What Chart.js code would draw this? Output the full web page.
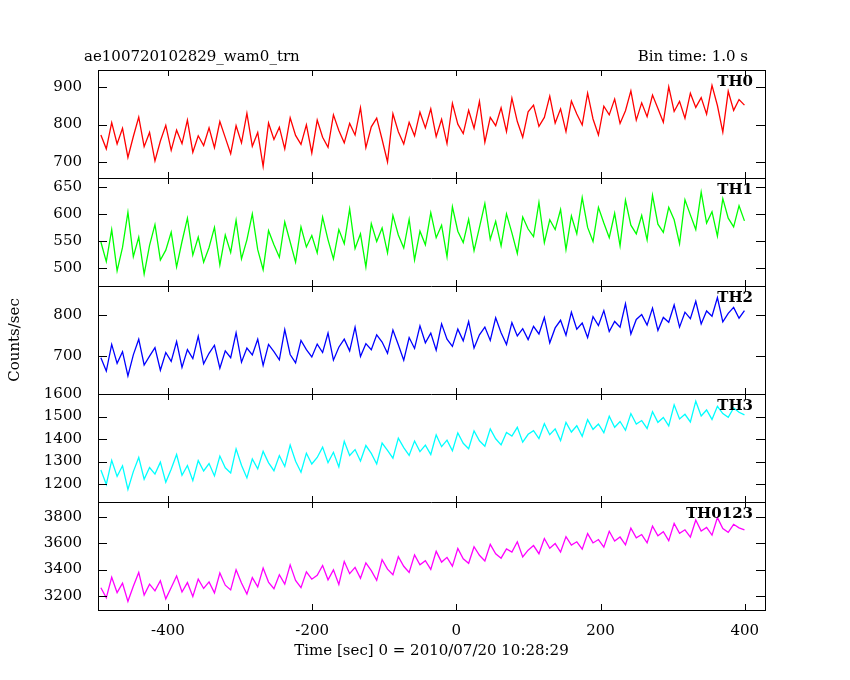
<!DOCTYPE html>
<html><head><meta charset="utf-8">
<script src="https://cdn.jsdelivr.net/npm/chart.js@4/dist/chart.umd.min.js"></script>
<style>body{margin:0;background:#fff}canvas{display:block}</style>
</head><body>
<canvas id="c" width="850" height="680"></canvas>
<script>
const tStart = -493, tStep = 7.5;
const panelNames = ["TH0","TH1","TH2","TH3","TH0123"];
const panelColors = ["#ff0000","#00ff00","#0000ff","#00ffff","#ff00ff"];
const th0 = [772,735,805,748,790,712,768,820,741,779,703,756,798,731,785,749,812,726,770,744,
791,738,808,765,722,797,751,830,742,779,688,804,760,793,735,818,771,747,799,724,
812,766,739,826,784,751,803,772,845,738,794,817,760,700,829,781,748,806,770,833,
791,842,768,814,749,857,801,776,838,790,862,753,819,797,845,781,871,808,766,834,
852,795,819,876,804,842,781,863,828,799,884,815,772,849,826,868,803,837,890,812,
858,821,879,843,806,901,835,862,817,884,846,872,828,905,851,780,889,838,867,852];
const th1 = [548,512,571,495,538,603,521,557,489,542,580,515,533,566,502,549,592,524,557,511,
538,575,506,561,529,588,517,552,600,534,497,569,543,520,585,548,511,576,539,560,
528,594,552,517,571,545,609,536,563,502,582,549,574,528,597,561,537,590,515,568,
543,602,556,579,521,613,568,547,590,532,575,619,553,586,541,600,565,527,594,572,
558,621,547,589,571,608,534,596,563,630,575,549,612,583,556,601,541,625,579,563,
597,552,634,581,566,612,589,545,626,598,571,640,583,604,559,628,592,576,615,587];
const th2 = [695,662,728,681,710,650,702,741,677,699,720,664,708,686,735,671,715,693,748,680,
706,726,669,712,695,757,684,719,702,741,676,728,710,690,765,703,682,738,715,697,
729,708,756,689,721,741,712,771,698,730,715,752,734,706,764,727,689,745,718,774,
732,756,714,779,741,723,766,737,785,719,752,771,738,794,757,728,782,749,767,740,
773,754,795,732,769,788,751,808,766,781,745,797,775,812,760,785,771,829,754,790,
802,776,818,763,795,783,826,771,808,792,835,779,811,798,844,784,805,820,793,812];
const th3 = [1262,1198,1305,1234,1281,1176,1255,1318,1221,1273,1244,1297,1208,1266,1331,1239,1282,1215,1304,1258,
1291,1236,1324,1272,1249,1356,1283,1227,1311,1267,1345,1294,1259,1326,1278,1373,1301,1252,1337,1289,
1318,1364,1295,1341,1276,1390,1327,1353,1302,1371,1336,1289,1382,1349,1315,1404,1362,1327,1391,1344,
1373,1331,1418,1366,1395,1348,1427,1381,1357,1436,1392,1368,1445,1401,1374,1429,1413,1452,1386,1421,
1437,1402,1468,1419,1445,1393,1474,1431,1459,1412,1486,1443,1467,1428,1501,1452,1478,1439,1513,1466,
1482,1447,1521,1474,1496,1458,1552,1489,1510,1476,1568,1502,1529,1487,1545,1513,1496,1538,1519,1507];
const th0123 = [3262,3185,3341,3224,3296,3158,3273,3378,3206,3289,3238,3315,3177,3264,3352,3229,3301,3195,3327,3256,
3306,3223,3374,3281,3245,3398,3297,3214,3339,3268,3412,3305,3254,3361,3289,3436,3318,3262,3383,3327,
3356,3431,3322,3398,3287,3462,3369,3417,3334,3451,3392,3318,3476,3403,3361,3498,3425,3378,3512,3436,
3468,3402,3539,3457,3493,3426,3561,3482,3448,3574,3509,3466,3592,3521,3487,3558,3534,3612,3496,3548,
3583,3521,3637,3562,3598,3534,3651,3587,3612,3556,3674,3603,3629,3571,3692,3618,3648,3589,3716,3642,
3667,3604,3731,3658,3689,3621,3752,3676,3703,3648,3778,3694,3721,3663,3796,3712,3684,3745,3718,3702];
const xTicks = [-400,-200,0,200,400];
const yTicks = [[700,800,900],[500,550,600,650],[700,800],[1200,1300,1400,1500,1600],[3200,3400,3600,3800]];
const yRanges = [[657,946],[467,666],[605,873],[1120,1600],[3092,3915]];
const series = [th0,th1,th2,th3,th0123];

const FONT = "'DejaVu Serif', 'Liberation Serif', serif";
const datasets = series.map((s,k)=>({
  label: panelNames[k], yAxisID:'y'+k,
  data: s.map((v,i)=>({x:tStart+i*tStep, y:v})),
  borderColor: panelColors[k], borderWidth:1.3, pointRadius:0, tension:0, fill:false
}));
const tickFont = {family:FONT, size:15};
const scales = {
  x: {type:'linear', min:-497, max:428, grid:{display:false}, border:{display:false},
      afterBuildTicks: s=>{s.ticks = xTicks.map(v=>({value:v}));},
      afterFit: s=>{s.height = 70;},
      ticks:{color:'#000', font:tickFont, padding:4, maxRotation:0, autoSkip:false, callback:v=>String(v)}}
};
for (let k=4;k>=0;k--) {
  scales['y'+k] = {type:'linear', position:'left', stack:'p', stackWeight:1, offset:false,
    min:yRanges[k][0], max:yRanges[k][1], grid:{display:false}, border:{display:false},
    afterBuildTicks: s=>{s.ticks = yTicks[k].map(v=>({value:v}));},
    afterFit: s=>{s.width = 98;},
    ticks:{color:'#000', font:tickFont, padding:8, autoSkip:false, callback:v=>String(v)}};
}
const deco = {
  id:'deco',
  afterDraw(chart){
    const c = chart.ctx, a = chart.chartArea, xs = chart.scales.x;
    c.save();
    c.strokeStyle='#000'; c.lineWidth=1;
    c.strokeRect(a.left+0.5, a.top+0.5, a.right-a.left, a.bottom-a.top);
    for (let k=0;k<5;k++){
      const ys = chart.scales['y'+k];
      c.beginPath(); c.moveTo(a.left, Math.round(ys.bottom)+0.5); c.lineTo(a.right, Math.round(ys.bottom)+0.5); c.stroke();
      yTicks[k].forEach(v=>{
        const py = Math.round(ys.getPixelForValue(v))+0.5;
        c.beginPath(); c.moveTo(a.left,py); c.lineTo(a.left+9,py); c.moveTo(a.right,py); c.lineTo(a.right-9,py); c.stroke();
      });
      xTicks.forEach(v=>{
        const px = Math.round(xs.getPixelForValue(v))+0.5;
        c.beginPath(); c.moveTo(px,ys.top); c.lineTo(px,ys.top+6); c.moveTo(px,ys.bottom); c.lineTo(px,ys.bottom-6); c.stroke();
      });
      c.fillStyle='#000'; c.font='bold 15px '+FONT; c.textAlign='right'; c.textBaseline='top';
      c.fillText(panelNames[k], a.right-12, ys.top+5);
    }
    c.fillStyle='#000'; c.font='15px '+FONT; c.textBaseline='alphabetic';
    c.textAlign='left'; c.fillText('ae100720102829_wam0_trn', 84, 61);
    c.textAlign='right'; c.fillText('Bin time: 1.0 s', 748, 61);
    c.textAlign='center'; c.fillText('Time [sec] 0 = 2010/07/20 10:28:29', (a.left+a.right)/2, 655);
    c.translate(19,(a.top+a.bottom)/2); c.rotate(-Math.PI/2); c.fillText('Counts/sec',0,0);
    c.restore();
  }
};
new Chart(document.getElementById('c'), {
  type:'line', data:{datasets},
  options:{responsive:false, animation:false, devicePixelRatio:1,
    layout:{padding:{left:0,right:85,top:70,bottom:0}},
    plugins:{legend:{display:false}, tooltip:{enabled:false}},
    scales},
  plugins:[deco]
});
</script>
</body></html>
